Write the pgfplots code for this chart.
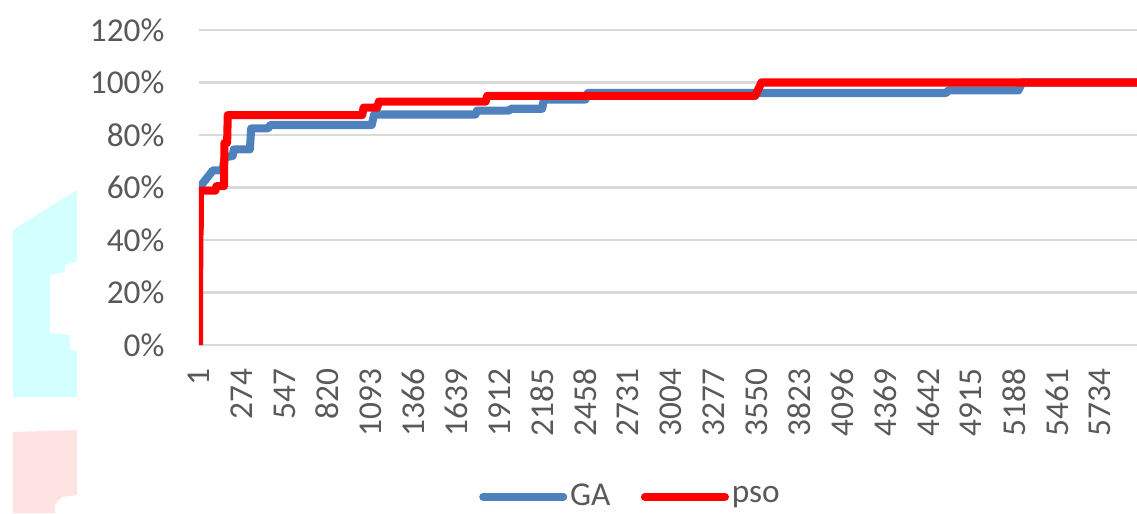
\documentclass[border=0pt]{standalone}
\usepackage{pgfplots}
\pgfplotsset{compat=1.18}
\usepackage{fontspec}
\setmainfont{Carlito}
\definecolor{gablue}{HTML}{4F81BD}
\definecolor{psored}{HTML}{FF0000}
\definecolor{txtgray}{HTML}{595959}
\definecolor{gridgray}{HTML}{D9D9D9}
\definecolor{cyanbg}{HTML}{D4FFFF}
\definecolor{pinkbg}{HTML}{FFE2E2}
\begin{document}
\begin{tikzpicture}
\fill[cyanbg] (-66.96pt,-18.72pt) -- (-66.96pt,41.4pt) -- (-43.92pt,55.8pt) -- (-43.92pt,-18.72pt) -- cycle;
\fill[white] (-43.92pt,29.88pt) -- (-48.24pt,28.8pt) -- (-48.24pt,26.28pt) -- (-53.64pt,25.2pt) -- (-53.64pt,4.32pt) -- (-46.44pt,3.6pt) -- (-46.44pt,-1.8pt) -- (-43.92pt,-1.8pt) -- cycle;
\fill[pinkbg] (-66.96pt,-31.32pt) -- (-43.92pt,-30.6pt) -- (-43.92pt,-54pt) -- (-49.32pt,-54.72pt) -- (-51.84pt,-57.6pt) -- (-51.84pt,-60.48pt) -- (-66.96pt,-60.48pt) -- cycle;
\begin{axis}[
  width=337.68pt, height=113.4pt, scale only axis,
  xmin=1, xmax=5970, ymin=0, ymax=120,
  axis line style={draw=none},
  tick style={draw=none},
  ymajorgrids, grid style={gridgray, line width=0.9pt},
  ytick={0,20,40,60,80,100,120},
  yticklabel={\pgfmathprintnumber{\tick}\%},
  xtick={1,274,547,820,1093,1366,1639,1912,2185,2458,2731,3004,3277,3550,3823,4096,4369,4642,4915,5188,5461,5734},
  /pgf/number format/assume math mode=true,
  /pgf/number format/1000 sep={},
  ticklabel style={font=\fontsize{12}{14}\selectfont, text=txtgray},
  yticklabel style={inner sep=0pt},
  yticklabel shift=12.24pt,
  xticklabel style={rotate=90, anchor=east, inner sep=0pt},
  xticklabel shift=8.28pt,
  legend columns=2,
  legend style={at={(0.4604,-0.482)}, anchor=center, draw=none, fill=none,
    font=\fontsize{12}{14}\selectfont, text=txtgray,
    nodes={inner sep=1pt},
    /tikz/every even column/.append style={column sep=10pt}},
  legend image code/.code={\draw[#1, line cap=round] (0pt,0pt) -- (28.8pt,0pt);},
]
\addplot[gablue, line width=2.9pt, line join=round] coordinates {
(1,59.5) (30,62) (89,66.5) (150,66.5) (165,71.5) (215,72) (222,74.5) (325,74.5)
(333,82.5) (440,82.5) (455,83.8) (1100,83.8) (1115,87.8) (1760,87.8) (1770,89.3)
(1975,89.3) (1985,90) (2185,90) (2195,93.5) (2460,93.5) (2475,96) (4755,96)
(4770,97) (5215,97) (5240,100) (5970,100)
};
\addlegendentry{GA}
\addplot[psored, line width=2.9pt, line join=round] coordinates {
(1,0) (2,28) (4,35) (4,42) (6,45) (7,58.8) (105,58.8) (112,60.5) (160,60.5)
(163,77) (180,77) (184,87.6) (1040,87.6) (1048,90.4) (1135,90.4) (1145,92.7)
(1825,92.7) (1835,94.9) (3540,94.9) (3580,100) (5970,100)
};
\addlegendentry{pso}
\end{axis}
\pgfresetboundingbox
\useasboundingbox (-71.64pt,-60.48pt) rectangle (337.68pt,124.2pt);
\end{tikzpicture}
\end{document}
